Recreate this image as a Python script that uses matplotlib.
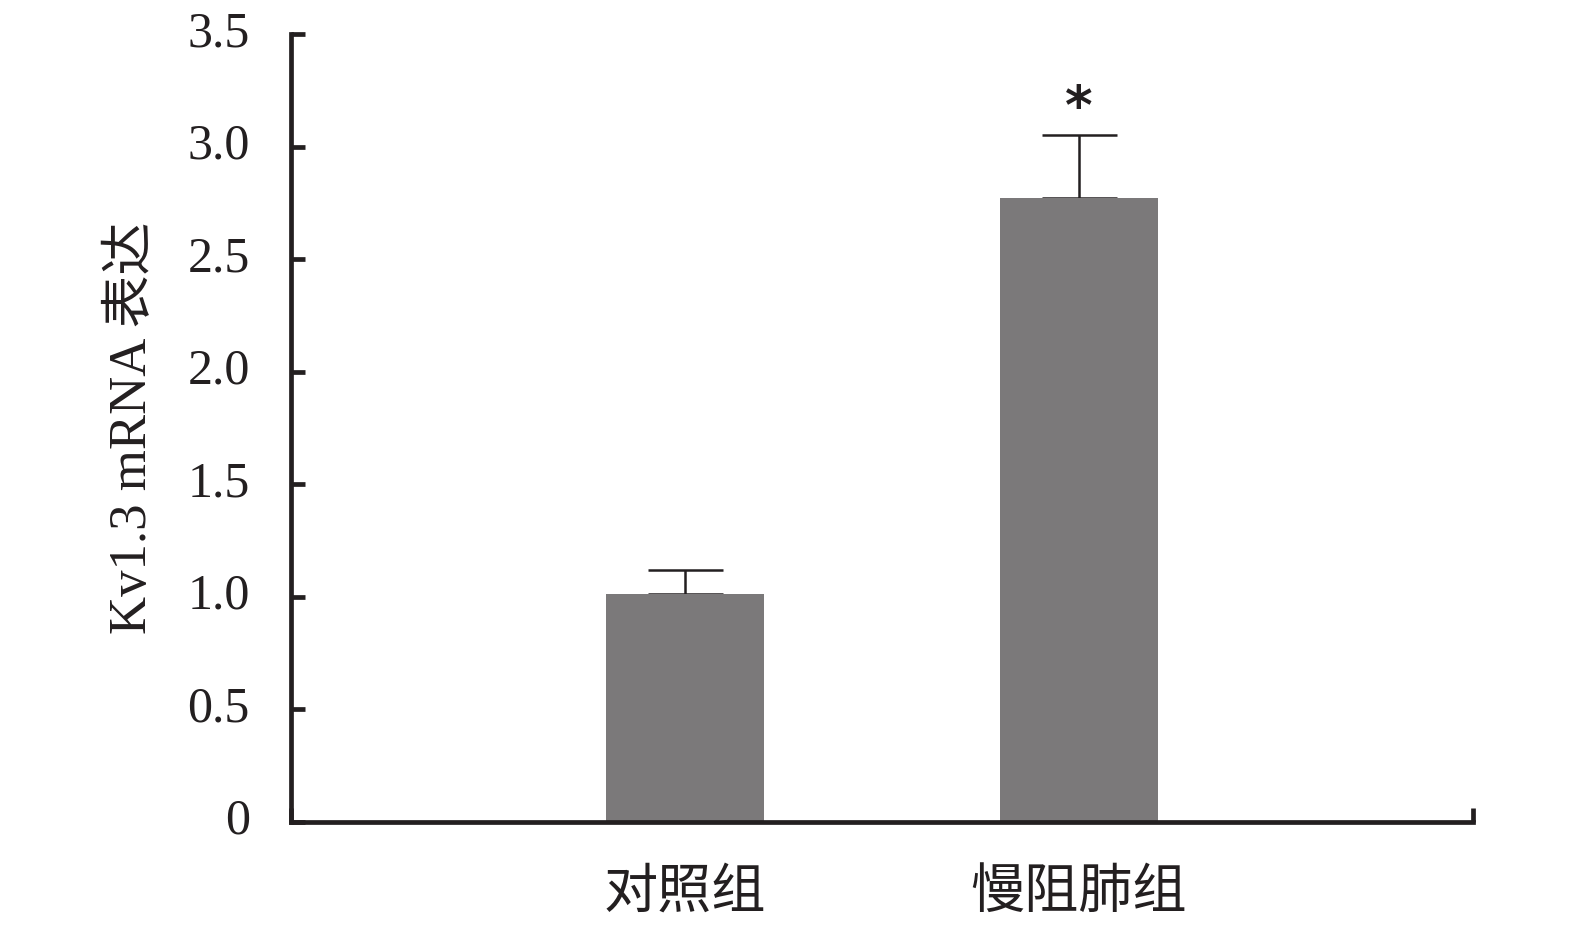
import numpy as np
import matplotlib.pyplot as plt
from matplotlib.ticker import FuncFormatter

groups = ['对照组', '慢阻肺组']
means = [1.01, 2.77]
errs = [0.11, 0.28]
yticks = [0, 0.5, 1.0, 1.5, 2.0, 2.5, 3.0, 3.5]

fonts = ['Liberation Serif', 'Noto Sans CJK SC']
plt.rcParams['font.family'] = fonts

fig = plt.figure(figsize=(15.75, 9.31), dpi=100)
ax = fig.add_axes([0.185, 0.1175, 0.75, 0.8458])

x = np.arange(1, len(groups) + 1)
ax.bar(x, means, width=0.4, color='#7b797a', zorder=2)
ax.errorbar(x, means, yerr=[np.zeros(len(errs)), errs], fmt='none',
            ecolor='#231f20', elinewidth=1.8, capsize=27, capthick=1.8, zorder=1)
# significance mark
ax.text(x[1], means[1] + errs[1] + 0.0, '*', ha='center', va='bottom',
        fontsize=38, fontweight='bold', color='#231f20', family='DejaVu Sans')

ax.set_xlim(0, 3)
ax.set_ylim(0, 3.5)
ax.set_yticks(yticks)
ax.yaxis.set_major_formatter(FuncFormatter(lambda v, p: '0' if v == 0 else f'{v:.1f}'))
ax.set_xticks(x)
ax.set_xticklabels(groups, family='Noto Sans CJK SC', fontsize=39)
ax.set_xticks([0, 3], minor=True)

for s in ['top', 'right']:
    ax.spines[s].set_visible(False)
for s in ['left', 'bottom']:
    ax.spines[s].set_linewidth(3.4)
    ax.spines[s].set_color('#231f20')

ax.tick_params(axis='y', direction='in', length=10, width=3.4, color='#231f20',
               labelsize=36, pad=30, labelcolor='#231f20')
ax.tick_params(axis='x', which='major', length=0, pad=31, labelcolor='#231f20')
ax.tick_params(axis='x', which='minor', direction='in', length=10, width=3.4, color='#231f20')
for lab in ax.get_yticklabels():
    lab.set_verticalalignment('center')

ax.set_ylabel('Kv1.3 mRNA 表达', fontsize=38, color='#231f20', labelpad=22)

fig.savefig('out.png', dpi=100)
